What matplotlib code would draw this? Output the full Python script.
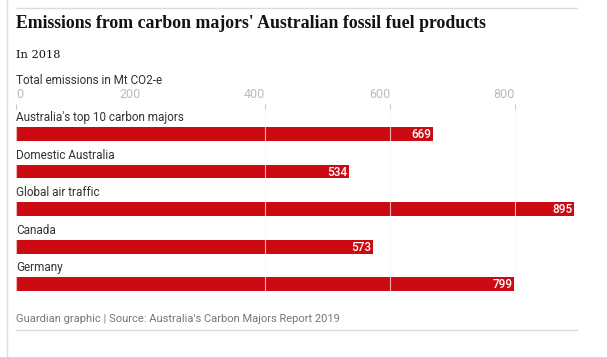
import matplotlib.pyplot as plt
from matplotlib.lines import Line2D

categories = ["Australia's top 10 carbon majors", "Domestic Australia",
              "Global air traffic", "Canada", "Germany"]
values = [669, 534, 895, 573, 799]
ticks = [0, 200, 400, 600, 800]

W, H = 607, 357
red = '#cc0a12'

fig = plt.figure(figsize=(W / 100, H / 100), dpi=100)

def fx(px):
    return px / W

def fy(py):
    return 1 - py / H

# frame lines
fig.add_artist(Line2D([fx(7), fx(7)], [0, 1], color='#dcdcdc', lw=1))
fig.add_artist(Line2D([fx(16), fx(577)], [fy(8), fy(8)], color='#dcdcdc', lw=1))
fig.add_artist(Line2D([fx(16), fx(577)], [fy(330), fy(330)], color='#dcdcdc', lw=1))

fig.text(fx(16), fy(24), "Emissions from carbon majors' Australian fossil fuel products",
         family='Liberation Serif', weight='bold', fontsize=12.8, color='#121212', va='center')
fig.text(fx(16), fy(55), "In 2018", family='DejaVu Serif', fontsize=8.2,
         color='#121212', va='center')
fig.text(fx(16), fy(81), "Total emissions in Mt CO2-e", family='Roboto', fontsize=8.5,
         color='#333333', va='center')
fig.text(fx(16), fy(319), "Guardian graphic | Source: Australia's Carbon Majors Report 2019",
         family='Roboto', fontsize=8, color='#767676', va='center')

ax = fig.add_axes([fx(16), fy(295), fx(574) - fx(16), (295 - 104) / H])
ypos = list(range(len(categories)))
ax.barh(ypos, values, height=0.37, color=red, zorder=1)
ax.set_xlim(0, 895)
ax.set_ylim(4.29, -0.8)
for s in ax.spines.values():
    s.set_visible(False)
ax.set_yticks([])
ax.xaxis.tick_top()
ax.set_xticks(ticks)
ax.set_xticklabels([str(t) for t in ticks])
ax.tick_params(axis='x', direction='in', length=3.6, width=0.8, color='#c8c8c8',
               labelcolor='#bbbbbb', labelsize=9, pad=2)
for lab in ax.get_xticklabels():
    lab.set_family('Roboto')
    lab.set_ha('left' if lab.get_text() == '0' else 'right')
ax.set_axisbelow(False)
ax.grid(axis='x', color='#fafafa', lw=0.8, alpha=0.7, zorder=3)
ax.xaxis.get_gridlines()[1].set_visible(False)
ax.xaxis.get_major_ticks()[1].tick2line.set_visible(False)

for y, c, v in zip(ypos, categories, values):
    ax.text(0, y - 0.43, c, family='Roboto', fontsize=8.5, color='#333333',
            ha='left', va='center')
    ax.text(v - 2.5, y + 0.02, str(v), family='Roboto', fontsize=8.5, color='white',
            weight='medium', ha='right', va='center', zorder=4)

fig.savefig('out.png', dpi=100)
